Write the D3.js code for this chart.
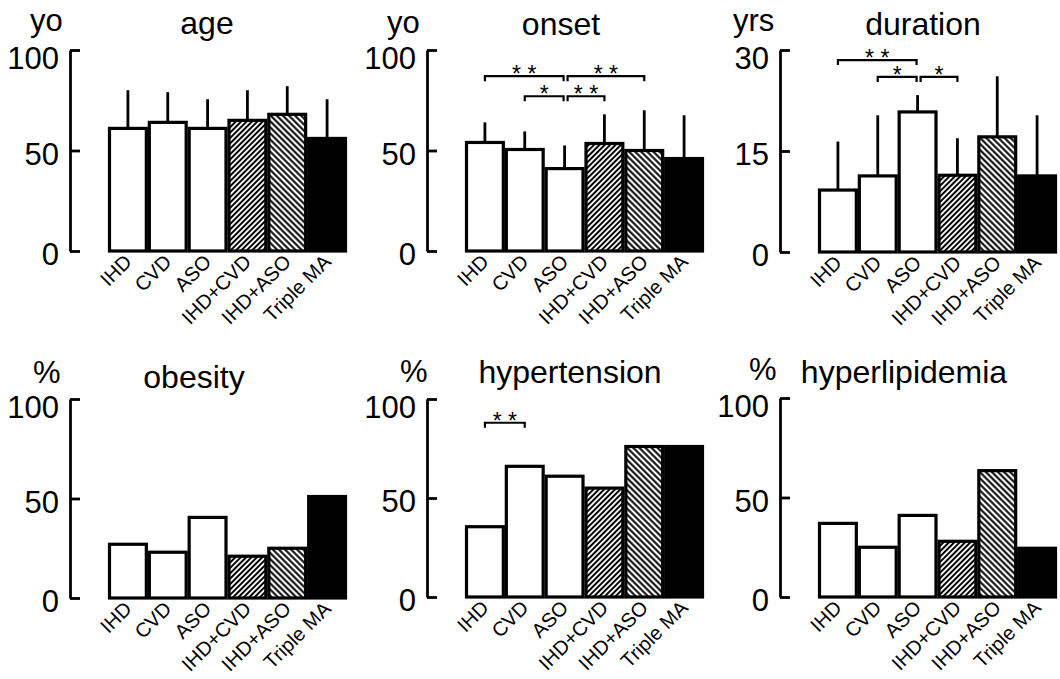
<!DOCTYPE html>
<html>
<head>
<meta charset="utf-8">
<script src="https://cdn.jsdelivr.net/npm/d3@7/dist/d3.min.js"></script>
<style>
  body { margin: 0; background: #fff; }
  svg { font-family: "Liberation Sans", Arial, Helvetica, sans-serif; }
</style>
</head>
<body>
<svg id="chart" width="1060" height="679"></svg>
<script>
const groups = ["IHD", "CVD", "ASO", "IHD+CVD", "IHD+ASO", "Triple MA"];

const ageMean = [61, 64, 61, 65, 68, 56];
const ageSD = [19, 15, 14.5, 15, 14, 19.5];
const onsetMean = [54, 50.5, 41, 53.5, 50, 46];
const onsetSD = [10, 9, 11.5, 14.5, 20, 21.5];
const durationMean = [9.2, 11.3, 20.8, 11.4, 17.1, 11.3];
const durationSD = [7.2, 9, 2.5, 5.5, 9, 9];
const obesityPct = [27, 23, 40.5, 21, 25, 51];
const hypertensionPct = [35.5, 66, 61, 55, 76, 76];
const hyperlipidemiaPct = [37, 25, 41, 28, 63.5, 24.5];

// [from, to, height in data units, marker]
const onsetSig = [["IHD", "ASO", 87, "* *"], ["ASO", "IHD+ASO", 87, "* *"], ["CVD", "ASO", 77, "*"], ["ASO", "IHD+CVD", 77, "* *"]];
const durationSig = [["IHD", "ASO", 28.5, "* *"], ["CVD", "ASO", 26, "*"], ["ASO", "IHD+CVD", 26, "*"]];
const hypertensionSig = [["IHD", "CVD", 88, "* *"]];

const barFills = ["#fff", "#fff", "#fff", "url(#hatchA)", "url(#hatchB)", "#000"];

const panels = [
  { title: "age", unit: "yo", max: 100, ticks: [0, 50, 100], mean: ageMean, sd: ageSD, sig: [],
    ax: 70, y0: 251, h: 201, titleX: 207, titleY: 34, unitX: 30, unitY: 31 },
  { title: "onset", unit: "yo", max: 100, ticks: [0, 50, 100], mean: onsetMean, sd: onsetSD, sig: onsetSig,
    ax: 427, y0: 251, h: 201, titleX: 561, titleY: 35, unitX: 387, unitY: 33 },
  { title: "duration", unit: "yrs", max: 30, ticks: [0, 15, 30], mean: durationMean, sd: durationSD, sig: durationSig,
    ax: 780, y0: 252, h: 202, titleX: 923, titleY: 35, unitX: 733, unitY: 31 },
  { title: "obesity", unit: "%", max: 100, ticks: [0, 50, 100], mean: obesityPct, sd: null, sig: [],
    ax: 70, y0: 598, h: 199, titleX: 194, titleY: 388, unitX: 33, unitY: 383 },
  { title: "hypertension", unit: "%", max: 100, ticks: [0, 50, 100], mean: hypertensionPct, sd: null, sig: hypertensionSig,
    ax: 427, y0: 597, h: 198, titleX: 570, titleY: 383, unitX: 400, unitY: 382 },
  { title: "hyperlipidemia", unit: "%", max: 100, ticks: [0, 50, 100], mean: hyperlipidemiaPct, sd: null, sig: [],
    ax: 780, y0: 597, h: 199, titleX: 904, titleY: 383, unitX: 749, unitY: 380 }
];

const svg = d3.select("#chart");
const defs = svg.append("defs");

function hatch(id, angle, size) {
  const p = defs.append("pattern")
    .attr("id", id)
    .attr("patternUnits", "userSpaceOnUse")
    .attr("width", size).attr("height", size)
    .attr("patternTransform", "rotate(" + angle + ")");
  p.append("rect").attr("width", size).attr("height", size).attr("fill", "#fff");
  p.append("line")
    .attr("x1", size / 2).attr("y1", -1).attr("x2", size / 2).attr("y2", size + 1)
    .attr("stroke", "#000").attr("stroke-width", 2);
}
hatch("hatchA", 45, 3.8);
hatch("hatchB", -45, 4.3);

function drawPanel(p) {
  const g = svg.append("g");

  const x = d3.scaleBand()
    .domain(groups)
    .range([p.ax + 38, p.ax + 38 + 239]);

  const y = d3.scaleLinear()
    .domain([0, p.max])
    .range([p.y0, p.y0 - p.h]);

  const axis = g.append("g")
    .attr("transform", "translate(" + p.ax + ",0)")
    .call(d3.axisLeft(y).tickValues(p.ticks).tickSizeInner(-10).tickSizeOuter(0).tickPadding(11));
  axis.select(".domain").attr("stroke-width", 2.8);
  axis.selectAll(".tick line").attr("stroke-width", 2.8);
  axis.selectAll(".tick text")
    .attr("font-size", 31)
    .attr("font-family", "Liberation Sans, Arial, sans-serif")
    .attr("dy", d => d === p.max ? "0.6em" : "0.45em")
    .attr("fill", "#000");

  // bars
  g.selectAll("rect.bar")
    .data(groups)
    .enter()
    .append("rect")
      .attr("class", "bar")
      .attr("x", d => x(d) + 1.5)
      .attr("width", x.bandwidth() - 3)
      .attr("y", (d, i) => y(p.mean[i]))
      .attr("height", (d, i) => y(0) - y(p.mean[i]))
      .attr("fill", (d, i) => barFills[i])
      .attr("stroke", "#000")
      .attr("stroke-width", 3.2);

  // error bars (upper only)
  if (p.sd) {
    g.selectAll("line.err")
      .data(groups)
      .enter()
      .append("line")
        .attr("class", "err")
        .attr("x1", d => x(d) + x.bandwidth() / 2)
        .attr("x2", d => x(d) + x.bandwidth() / 2)
        .attr("y1", (d, i) => y(p.mean[i]))
        .attr("y2", (d, i) => y(p.mean[i] + p.sd[i]))
        .attr("stroke", "#000")
        .attr("stroke-width", 2.8);
  }

  // significance brackets
  p.sig.forEach(s => {
    let x1 = x(s[0]) + x.bandwidth() / 2;
    let x2 = x(s[1]) + x.bandwidth() / 2;
    if (s[0] === "ASO") x1 += 3;
    if (s[1] === "ASO") x2 -= 1;
    const yy = y(s[2]);
    g.append("path")
      .attr("d", "M" + x1 + "," + (yy + 5) + "V" + yy + "H" + x2 + "V" + (yy + 5))
      .attr("fill", "none")
      .attr("stroke", "#000")
      .attr("stroke-width", 2.2);
    g.append("text")
      .attr("x", (x1 + x2) / 2)
      .attr("y", yy + 6)
      .attr("text-anchor", "middle")
      .attr("font-size", 23)
      .text(s[3]);
  });

  // category labels
  g.selectAll("text.cat")
    .data(groups)
    .enter()
    .append("text")
      .attr("class", "cat")
      .attr("text-anchor", "end")
      .attr("font-size", 20)
      .attr("transform", d => "translate(" + (x(d) + x.bandwidth() / 2 + 5) + "," + (p.y0 + 12) + ")rotate(-45)")
      .text(d => d);

  // title and unit
  g.append("text")
    .attr("x", p.titleX)
    .attr("y", p.titleY)
    .attr("text-anchor", "middle")
    .attr("font-size", 32)
    .text(p.title);

  g.append("text")
    .attr("x", p.unitX)
    .attr("y", p.unitY)
    .attr("font-size", 31)
    .text(p.unit);
}

panels.forEach(drawPanel);
</script>
</body>
</html>
